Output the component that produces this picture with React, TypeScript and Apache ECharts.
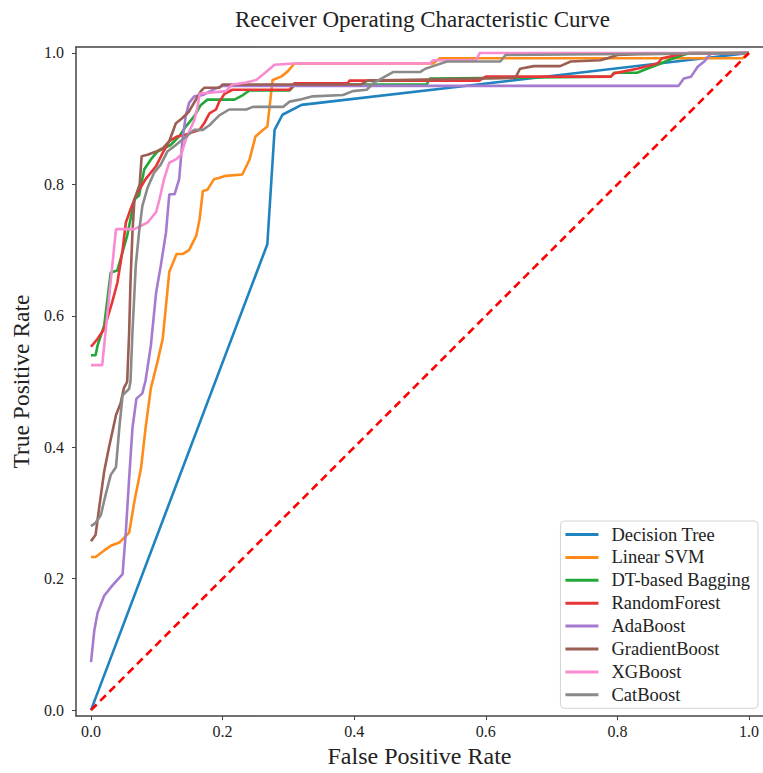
import React, { useEffect, useRef } from "react";
import * as echarts from "echarts";

const seriesNames = [
  "Decision Tree",
  "Linear SVM",
  "DT-based Bagging",
  "RandomForest",
  "AdaBoost",
  "GradientBoost",
  "XGBoost",
  "CatBoost",
];

const seriesColors = [
  "#1f83c0",
  "#ff8c1a",
  "#22a83a",
  "#e83535",
  "#a57bd0",
  "#9a5e52",
  "#f98bd0",
  "#8a8a8a",
];

const tickValues = [0, 0.2, 0.4, 0.6, 0.8, 1.0];

const decisionTree = [[0, 0], [0.268, 0.709], [0.279, 0.883], [0.291, 0.906], [0.32, 0.921], [1, 1]];

const linearSVM = [[0, 0.233], [0.007, 0.233], [0.02, 0.243], [0.03, 0.25], [0.043, 0.255], [0.058, 0.27], [0.066, 0.318], [0.076, 0.368], [0.083, 0.43], [0.091, 0.49], [0.101, 0.53], [0.109, 0.565], [0.119, 0.667], [0.13, 0.694], [0.139, 0.694], [0.149, 0.7], [0.16, 0.722], [0.165, 0.747], [0.17, 0.79], [0.177, 0.792], [0.187, 0.808], [0.195, 0.81], [0.205, 0.813], [0.23, 0.815], [0.241, 0.838], [0.25, 0.873], [0.259, 0.881], [0.268, 0.888], [0.276, 0.959], [0.289, 0.964], [0.299, 0.972], [0.309, 0.984], [0.52, 0.984], [0.53, 0.992], [0.99, 0.992], [1, 1]];

const dtBagging = [[0, 0.54], [0.007, 0.54], [0.01, 0.555], [0.02, 0.585], [0.03, 0.666], [0.04, 0.669], [0.055, 0.722], [0.066, 0.777], [0.073, 0.783], [0.081, 0.823], [0.091, 0.838], [0.101, 0.85], [0.111, 0.855], [0.121, 0.86], [0.134, 0.873], [0.144, 0.888], [0.157, 0.904], [0.167, 0.921], [0.177, 0.929], [0.218, 0.929], [0.231, 0.936], [0.241, 0.943], [0.302, 0.943], [0.31, 0.952], [0.51, 0.952], [0.515, 0.961], [0.79, 0.964], [0.795, 0.97], [0.83, 0.97], [0.845, 0.976], [0.866, 0.984], [0.88, 0.99], [0.9, 0.997], [0.91, 1], [1, 1]];

const randomForest = [[0, 0.553], [0.01, 0.565], [0.02, 0.58], [0.032, 0.62], [0.04, 0.65], [0.048, 0.7], [0.053, 0.742], [0.06, 0.762], [0.066, 0.777], [0.071, 0.788], [0.083, 0.808], [0.099, 0.828], [0.109, 0.848], [0.119, 0.866], [0.131, 0.873], [0.144, 0.876], [0.165, 0.883], [0.172, 0.893], [0.18, 0.908], [0.19, 0.914], [0.195, 0.926], [0.203, 0.938], [0.215, 0.944], [0.302, 0.944], [0.309, 0.954], [0.39, 0.954], [0.393, 0.958], [0.59, 0.958], [0.6, 0.964], [0.79, 0.964], [0.795, 0.969], [0.83, 0.976], [0.861, 0.984], [0.868, 0.992], [0.891, 0.997], [0.908, 1], [1, 1]];

const adaBoost = [[0, 0.073], [0.005, 0.121], [0.01, 0.148], [0.02, 0.174], [0.032, 0.189], [0.048, 0.207], [0.053, 0.272], [0.058, 0.353], [0.063, 0.429], [0.069, 0.474], [0.078, 0.482], [0.083, 0.502], [0.091, 0.555], [0.099, 0.636], [0.106, 0.676], [0.114, 0.727], [0.119, 0.785], [0.127, 0.785], [0.134, 0.808], [0.139, 0.868], [0.144, 0.904], [0.149, 0.924], [0.157, 0.934], [0.17, 0.936], [0.185, 0.944], [0.2, 0.95], [0.893, 0.95], [0.901, 0.961], [0.912, 0.964], [0.922, 0.979], [0.932, 0.987], [0.942, 0.999], [1, 1]];

const gradientBoost = [[0, 0.257], [0.007, 0.267], [0.012, 0.305], [0.02, 0.363], [0.027, 0.398], [0.038, 0.449], [0.045, 0.467], [0.05, 0.49], [0.055, 0.5], [0.058, 0.575], [0.06, 0.651], [0.063, 0.727], [0.066, 0.777], [0.074, 0.8], [0.077, 0.843], [0.086, 0.845], [0.099, 0.85], [0.109, 0.855], [0.119, 0.866], [0.129, 0.893], [0.139, 0.901], [0.149, 0.911], [0.16, 0.93], [0.167, 0.942], [0.172, 0.947], [0.195, 0.947], [0.2, 0.952], [0.41, 0.952], [0.42, 0.958], [0.645, 0.962], [0.652, 0.976], [0.673, 0.98], [0.713, 0.98], [0.729, 0.987], [0.774, 0.989], [0.785, 0.992], [0.8, 0.997], [0.83, 0.998], [1, 1]];

const xgBoost = [[0, 0.525], [0.017, 0.525], [0.038, 0.732], [0.066, 0.732], [0.086, 0.742], [0.099, 0.758], [0.104, 0.777], [0.111, 0.808], [0.119, 0.833], [0.129, 0.838], [0.137, 0.845], [0.144, 0.868], [0.157, 0.898], [0.162, 0.918], [0.165, 0.938], [0.205, 0.942], [0.215, 0.952], [0.236, 0.955], [0.251, 0.959], [0.261, 0.967], [0.279, 0.982], [0.307, 0.984], [0.515, 0.984], [0.52, 0.989], [0.585, 0.989], [0.591, 1], [1, 1]];

const catBoost = [[0, 0.28], [0.007, 0.285], [0.015, 0.297], [0.022, 0.327], [0.03, 0.358], [0.038, 0.37], [0.043, 0.429], [0.048, 0.479], [0.058, 0.489], [0.06, 0.5], [0.063, 0.575], [0.068, 0.676], [0.073, 0.727], [0.078, 0.767], [0.086, 0.795], [0.096, 0.818], [0.106, 0.83], [0.116, 0.85], [0.129, 0.86], [0.157, 0.883], [0.17, 0.883], [0.18, 0.89], [0.19, 0.9], [0.195, 0.905], [0.21, 0.914], [0.236, 0.914], [0.246, 0.918], [0.292, 0.918], [0.302, 0.926], [0.317, 0.929], [0.337, 0.934], [0.383, 0.936], [0.398, 0.942], [0.419, 0.944], [0.429, 0.954], [0.459, 0.971], [0.5, 0.971], [0.508, 0.976], [0.52, 0.98], [0.541, 0.987], [0.622, 0.987], [0.63, 0.997], [1, 1]];

const chanceLine = [[0, 0], [1, 1]];

const allSeriesData = [decisionTree, linearSVM, dtBagging, randomForest, adaBoost, gradientBoost, xgBoost, catBoost];

const FONT = "Liberation Serif";

export default function App() {
  const ref = useRef<HTMLDivElement>(null);
  useEffect(() => {
    if (!ref.current) return;
    const chart = echarts.init(ref.current, undefined, { renderer: "svg" });
    const lineSeries: any[] = allSeriesData.map((d, i) => ({
      name: seriesNames[i],
      type: "line",
      data: d,
      showSymbol: false,
      symbol: "none",
      lineStyle: { color: seriesColors[i], width: 2.6 },
      itemStyle: { color: seriesColors[i] },
      z: 2 + i,
    }));
    lineSeries.push({
      name: "chance",
      type: "line",
      data: chanceLine,
      showSymbol: false,
      symbol: "none",
      lineStyle: { color: "#ff0000", width: 2.6, type: [8, 5] },
      z: 20,
    });
    const labelStyle = { fontFamily: FONT, fontSize: 16, color: "#222" };
    chart.setOption({
      animation: false,
      backgroundColor: "#fff",
      title: {
        text: "Receiver Operating Characteristic Curve",
        left: 230,
        top: 3,
        textStyle: { fontFamily: FONT, fontSize: 23, fontWeight: "normal", color: "#222" },
      },
      legend: {
        data: seriesNames,
        orient: "vertical",
        right: 5,
        top: 521,
        icon: "rect",
        itemWidth: 33,
        itemHeight: 3,
        itemGap: 3.9,
        padding: [4, 8, 4, 5],
        borderColor: "#d4d4d4",
        borderWidth: 1,
        borderRadius: 4,
        backgroundColor: "rgba(255,255,255,0.85)",
        textStyle: { fontFamily: FONT, fontSize: 18.5, color: "#222", lineHeight: 18, padding: [0, 0, 0, 8] },
      },
      grid: { left: 76, right: 0, top: 47, bottom: 48, containLabel: false },
      xAxis: [
        {
          type: "value",
          min: -0.0228,
          max: 1.0213,
          name: "False Positive Rate",
          nameLocation: "middle",
          nameGap: 26,
          nameTextStyle: { fontFamily: FONT, fontSize: 24, color: "#222" },
          axisLine: { show: true, onZero: false, lineStyle: { color: "#444", width: 1.5 } },
          axisTick: { show: true, length: 4, customValues: tickValues, lineStyle: { color: "#444" } },
          axisLabel: { customValues: tickValues, ...labelStyle, margin: 7, formatter: (v: number) => v.toFixed(1) },
          splitLine: { show: false },
        },
        {
          type: "value",
          position: "top",
          min: -0.0228,
          max: 1.0213,
          axisLine: { show: true, onZero: false, lineStyle: { color: "#444", width: 1.5 } },
          axisTick: { show: false },
          axisLabel: { show: false },
          splitLine: { show: false },
        },
      ],
      yAxis: {
        type: "value",
        min: -0.0091,
        max: 1.0091,
        name: "True Positive Rate",
        nameLocation: "middle",
        nameGap: 42,
        nameTextStyle: { fontFamily: FONT, fontSize: 23.5, color: "#222" },
        axisLine: { show: true, onZero: false, lineStyle: { color: "#444", width: 1.5 } },
        axisTick: { show: true, length: 4, customValues: tickValues, lineStyle: { color: "#444" } },
        axisLabel: { customValues: tickValues, ...labelStyle, margin: 12, formatter: (v: number) => v.toFixed(1) },
        splitLine: { show: false },
      },
      series: lineSeries,
    });
    return () => chart.dispose();
  }, []);
  return <div ref={ref} style={{ width: 763, height: 773, position: "absolute", left: 0, top: 0 }} />;
}
